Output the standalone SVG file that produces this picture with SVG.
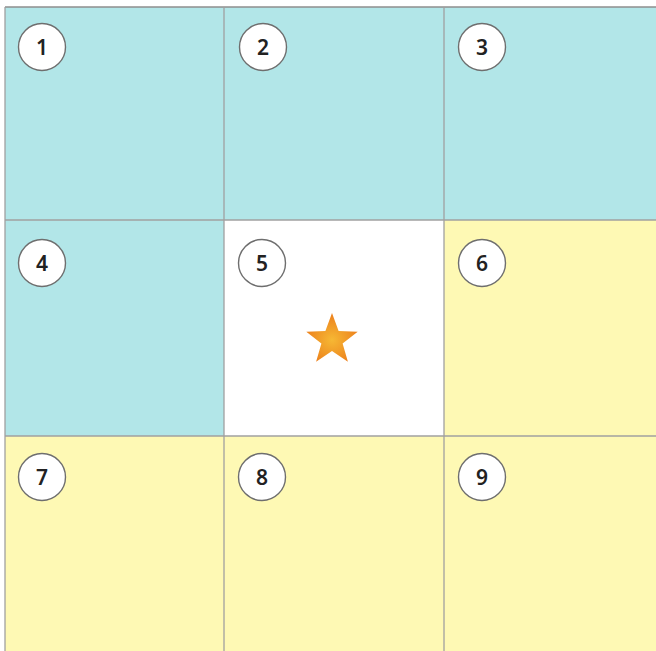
<svg xmlns="http://www.w3.org/2000/svg" width="656" height="651" viewBox="0 0 656 651">
<style>
.teal{fill:#b2e6e8}
.yel{fill:#fef9b4}
.wht{fill:#ffffff}
.grid{stroke:#a0a0a0;stroke-width:1.3;fill:none}
.badge circle{fill:#ffffff;stroke:#6e6e6e;stroke-width:1.4}
.badge text{font-family:"Noto Sans","DejaVu Sans",sans-serif;font-size:21px;font-weight:600;fill:#222;text-anchor:middle;dominant-baseline:central}
</style>
<defs>
<radialGradient id="sg" cx="0.5" cy="0.55" r="0.55">
<stop offset="0" stop-color="#f6b834"/>
<stop offset="1" stop-color="#ec7f1c"/>
</radialGradient>
</defs>
<rect width="656" height="651" fill="#ffffff"/>
<g id="cell1"><rect class="teal" x="5" y="7" width="219" height="213"/><g class="badge"><circle cx="42" cy="47" r="23.5"/><text x="42" y="47">1</text></g></g>
<g id="cell2"><rect class="teal" x="224" y="7" width="220" height="213"/><g class="badge"><circle cx="263" cy="47" r="23.5"/><text x="263" y="47">2</text></g></g>
<g id="cell3"><rect class="teal" x="444" y="7" width="212" height="213"/><g class="badge"><circle cx="482" cy="47" r="23.5"/><text x="482" y="47">3</text></g></g>
<g id="cell4"><rect class="teal" x="5" y="220" width="219" height="216"/><g class="badge"><circle cx="42" cy="263" r="23.5"/><text x="42" y="263">4</text></g></g>
<g id="cell5"><rect class="wht" x="224" y="220" width="220" height="216"/><g class="badge"><circle cx="262" cy="263" r="23.5"/><text x="262" y="263">5</text></g>
<polygon fill="url(#sg)" points="332,313 338.6,331 357.7,331.7 342.6,343.5 347.9,361.8 332,351 316.1,361.8 321.4,343.5 306.3,331.7 325.4,331"/></g>
<g id="cell6"><rect class="yel" x="444" y="220" width="212" height="216"/><g class="badge"><circle cx="482" cy="263" r="23.5"/><text x="482" y="263">6</text></g></g>
<g id="cell7"><rect class="yel" x="5" y="436" width="219" height="215"/><g class="badge"><circle cx="42" cy="477" r="23.5"/><text x="42" y="477">7</text></g></g>
<g id="cell8"><rect class="yel" x="224" y="436" width="220" height="215"/><g class="badge"><circle cx="262" cy="477" r="23.5"/><text x="262" y="477">8</text></g></g>
<g id="cell9"><rect class="yel" x="444" y="436" width="212" height="215"/><g class="badge"><circle cx="482" cy="477" r="23.5"/><text x="482" y="477">9</text></g></g>
<g id="gridlines" class="grid">
<line x1="5" y1="7" x2="656" y2="7" stroke="#8e8e8e"/>
<line x1="5" y1="7" x2="5" y2="651"/>
<line x1="224" y1="7" x2="224" y2="651"/>
<line x1="444" y1="7" x2="444" y2="651"/>
<line x1="5" y1="220" x2="656" y2="220"/>
<line x1="5" y1="436" x2="656" y2="436"/>
</g>
</svg>
